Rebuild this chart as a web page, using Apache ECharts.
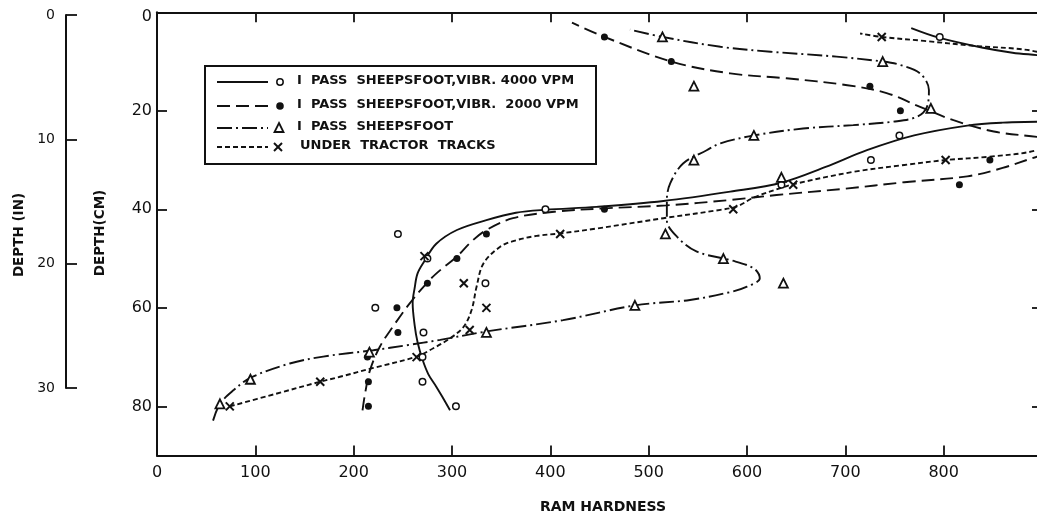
<!DOCTYPE html>
<html>
<head>
<meta charset="utf-8">
<title>Ram hardness vs depth</title>
<script src="https://cdn.jsdelivr.net/npm/echarts@6/dist/echarts.min.js"></script>
<style>
  html, body { margin: 0; padding: 0; background: #fff; }
  #chart { width: 1037px; height: 515px; }
</style>
</head>
<body>
<div id="chart"></div>
<script>
// ---- measured points: [ram hardness, depth (cm)] ----
const vibr4000Points = [
  [796, 5], [755, 25], [726, 30], [635, 35], [395, 40], [245, 45], [275, 50],
  [334, 55], [222, 60], [271, 65], [270, 70], [270, 75], [304, 80]
];
const vibr2000Points = [
  [455, 5], [523, 10], [725, 15], [756, 20], [847, 30], [816, 35], [455, 40],
  [335, 45], [305, 50], [275, 55], [244, 60], [245, 65], [214, 70], [215, 75], [215, 80]
];
const sheepsfootPoints = [
  [514, 5], [738, 10], [546, 15], [787, 19.5], [607, 25], [546, 30], [635, 33.5],
  [517, 45], [576, 50], [637, 55], [486, 59.5], [335, 65], [216, 69], [95, 74.5], [64, 79.5]
];
const tractorPoints = [
  [737, 5], [802, 30], [647, 35], [586, 40], [410, 45], [272, 49.5], [312, 55],
  [335, 60], [318, 64.5], [264, 70], [166, 75], [74, 80]
];

// ---- hand-fitted curves: [ram hardness, depth (cm)], traced from the bottom up ----
const vibr4000Curve = [
  [298, 80.8], [290, 78], [284, 76], [276, 73.5], [270, 70.5], [265, 67], [262, 63.5],
  [260, 59], [262, 56], [265, 53], [272, 50.5], [284, 47], [305, 44.2], [335, 42.2],
  [365, 40.7], [395, 40.1], [447, 39.5], [515, 38.3], [583, 36.4], [635, 34.6],
  [680, 31.4], [722, 28], [770, 25], [824, 23], [860, 22.4], [900, 22.2], [940, 21.8],
  [962, 18], [955, 12.5], [928, 9.6], [900, 8.8], [870, 8.2], [840, 7.2], [796, 5.2], [767, 3.2]
];
const vibr2000Curve = [
  [209, 80.8], [211.6, 77.4], [216.7, 72.6], [226.6, 67.9], [240, 63.8], [257, 59.1],
  [277, 54.4], [290, 52], [305, 49.6], [320, 46.5], [335, 44.2], [362, 41.8], [404, 40.5],
  [455, 39.8], [518, 39.2], [583, 38.1], [630, 37.1], [700, 35.8], [760, 34.5], [824, 33.3],
  [860, 31.6], [895, 29.3], [925, 27.6], [928, 26.2], [895, 25.3], [851, 24.2], [810, 21.9],
  [776, 19.2], [742, 16.4], [702, 14.8], [640, 13.4], [583, 12.4], [523, 10], [455, 5], [422, 2.1]
];
const sheepsfootCurve = [
  [57, 82.9], [64, 79.5], [78, 76.7], [95, 74.2], [135, 71.3], [169, 69.9], [220, 68.6],
  [254, 67.6], [288, 66.5], [335, 64.8], [413, 62.5], [486, 59.5], [542, 58.4], [583, 56.8],
  [600, 55.7], [613, 54], [607, 52], [583, 50.3], [549, 48.6], [529, 45.6], [518.5, 42.2],
  [518.5, 38.1], [522, 34.7], [535, 30.7], [559, 28], [573, 26.6], [607, 25], [657, 23.6],
  [708, 22.9], [749, 22.2], [773, 21.2], [783, 19.2], [785, 15.8], [776, 12.4], [756, 10.7],
  [738, 10], [691, 9], [624, 8], [573, 7], [514, 5], [481, 3.5]
];
const tractorCurve = [
  [74, 80], [120, 77.5], [166, 75], [186, 74], [220, 72.2], [264, 69.9], [281, 68.2],
  [298, 66.2], [312, 63.8], [320, 60.4], [325, 55.7], [332, 51], [349, 47.6], [365, 46.3],
  [386, 45.4], [410, 44.9], [447, 43.9], [515, 41.8], [573, 40.1], [590, 39.4], [607, 37.6],
  [634, 35.7], [647, 34.9], [708, 32.4], [760, 31], [802, 30], [847, 29.3], [895, 28],
  [930, 25], [945, 18], [930, 11], [895, 8], [830, 6.8], [780, 5.8], [737, 5], [715, 4.3]
];

// ---- axis ticks ----
const hardnessTicks = [0, 100, 200, 300, 400, 500, 600, 700, 800];
const depthCmTicks = [0, 20, 40, 60, 80];
const depthInTicks = [0, 10, 20, 30];

const legendLabels = [
  'I  PASS  SHEEPSFOOT,VIBR. 4000 VPM',
  'I  PASS  SHEEPSFOOT,VIBR.  2000 VPM',
  'I  PASS  SHEEPSFOOT',
  'UNDER  TRACTOR  TRACKS'
];

const INK = '#111';
const FONT = '"DejaVu Sans", sans-serif';

const dashVibr2000 = [13, 6];
const dashSheepsfoot = [15, 4, 2, 4];
const dashTractor = [5, 3];

const xMark = 'path://M0,0L10,10M10,0L0,10';

function curveSeries(data, type) {
  return {
    type: 'line', data: data, xAxisIndex: 0, yAxisIndex: 0,
    showSymbol: false, smooth: 0.35, clip: true, silent: true,
    lineStyle: { color: INK, width: 1.9, type: type },
    z: 2
  };
}
function pointSeries(data, symbol, size, fill, border) {
  return {
    type: 'scatter', data: data, xAxisIndex: 0, yAxisIndex: 0,
    symbol: symbol, symbolSize: size, silent: true,
    itemStyle: { color: fill, borderColor: INK, borderWidth: border, opacity: 1 },
    z: 3
  };
}

// legend drawn as a boxed key: line sample, marker, label
const legendRows = [82, 106, 128, 147];
const legendGraphics = [
  { type: 'rect', shape: { x: 205, y: 66, width: 391, height: 98 },
    style: { fill: '#fff', stroke: INK, lineWidth: 2 }, z: 10 }
];
const legendDashes = [null, dashVibr2000, dashSheepsfoot, dashTractor];
legendRows.forEach(function (y, i) {
  legendGraphics.push({
    type: 'line', shape: { x1: 217, y1: y, x2: 268, y2: y },
    style: { stroke: INK, lineWidth: 1.9, lineDash: legendDashes[i] }, z: 11
  });
  legendGraphics.push({
    type: 'text', left: i === 3 ? 300 : 297, top: y - 8,
    style: { text: legendLabels[i], fill: INK, font: 'bold 13px ' + FONT }, z: 11
  });
});
legendGraphics.push(
  { type: 'circle', shape: { cx: 280, cy: legendRows[0], r: 3.2 },
    style: { fill: '#fff', stroke: INK, lineWidth: 1.5 }, z: 11 },
  { type: 'circle', shape: { cx: 280, cy: legendRows[1], r: 3.8 },
    style: { fill: INK }, z: 11 },
  { type: 'polygon', shape: { points: [[279, legendRows[2] - 5], [283.5, legendRows[2] + 4], [274.5, legendRows[2] + 4]] },
    style: { fill: '#fff', stroke: INK, lineWidth: 1.8 }, z: 11 },
  { type: 'line', shape: { x1: 274, y1: legendRows[3] - 4, x2: 282, y2: legendRows[3] + 4 },
    style: { stroke: INK, lineWidth: 2 }, z: 11 },
  { type: 'line', shape: { x1: 282, y1: legendRows[3] - 4, x2: 274, y2: legendRows[3] + 4 },
    style: { stroke: INK, lineWidth: 2 }, z: 11 }
);

// axis titles
legendGraphics.push(
  { type: 'text', x: 19, y: 235, rotation: Math.PI / 2,
    style: { text: 'DEPTH (IN)', fill: INK, font: 'bold 13.5px ' + FONT, align: 'center', verticalAlign: 'middle' } },
  { type: 'text', x: 100, y: 233, rotation: Math.PI / 2,
    style: { text: 'DEPTH(CM)', fill: INK, font: 'bold 13.5px ' + FONT, align: 'center', verticalAlign: 'middle' } },
  { type: 'text', x: 603, y: 507,
    style: { text: 'RAM HARDNESS', fill: INK, font: 'bold 14px ' + FONT, align: 'center', verticalAlign: 'middle' } }
);

const frameLine = { show: true, onZero: false, lineStyle: { color: INK, width: 2 } };
const innerTick = { show: true, inside: true, length: 10, lineStyle: { color: INK, width: 1.8 } };

const option = {
  backgroundColor: '#fff',
  animation: false,
  grid: [
    { left: 157, top: 12.3, width: 885, height: 443.3, containLabel: false, outerBoundsMode: 'none' },
    { left: 66, top: 15, width: 1, height: 373, containLabel: false, outerBoundsMode: 'none' }
  ],
  xAxis: [
    {
      type: 'value', gridIndex: 0, position: 'bottom', min: 0, max: 900, interval: 100,
      axisLine: frameLine, axisTick: innerTick, splitLine: { show: false },
      axisLabel: {
        color: INK, fontFamily: FONT, fontSize: 16, margin: 9,
        formatter: function (v) { return hardnessTicks.indexOf(v) >= 0 ? String(v) : ''; }
      }
    },
    {
      type: 'value', gridIndex: 0, position: 'top', min: 0, max: 900, interval: 100,
      axisLine: frameLine, axisTick: innerTick, splitLine: { show: false },
      axisLabel: { show: false }
    },
    { type: 'value', gridIndex: 1, min: 0, max: 1, show: false }
  ],
  yAxis: [
    {
      type: 'value', gridIndex: 0, position: 'left', inverse: true, min: 0, max: 90, interval: 20,
      axisLine: frameLine, axisTick: innerTick, splitLine: { show: false },
      axisLabel: {
        color: INK, fontFamily: FONT, fontSize: 16, margin: 5,
        formatter: function (v) {
          if (depthCmTicks.indexOf(v) < 0) return '';
          return v === 0 ? '{top|0}' : String(v);
        },
        rich: { top: { fontFamily: FONT, fontSize: 16, color: INK, padding: [10, 0, 0, 0] } }
      }
    },
    {
      type: 'value', gridIndex: 0, position: 'right', inverse: true, min: 0, max: 90, interval: 20,
      axisLine: frameLine, axisTick: innerTick, splitLine: { show: false },
      axisLabel: { show: false }
    },
    {
      type: 'value', gridIndex: 1, position: 'left', inverse: true, min: 0, max: 30, interval: 10,
      axisLine: frameLine,
      axisTick: { show: true, inside: true, length: 11, lineStyle: { color: INK, width: 1.8 } },
      splitLine: { show: false },
      axisLabel: {
        color: INK, fontFamily: FONT, fontSize: 14, margin: 11,
        formatter: function (v) { return depthInTicks.indexOf(v) >= 0 ? String(v) : ''; }
      }
    }
  ],
  series: [
    curveSeries(vibr4000Curve, 'solid'),
    curveSeries(vibr2000Curve, dashVibr2000),
    curveSeries(sheepsfootCurve, dashSheepsfoot),
    curveSeries(tractorCurve, dashTractor),
    pointSeries(vibr4000Points, 'circle', 6.5, '#fff', 1.5),
    pointSeries(vibr2000Points, 'circle', 7, INK, 0),
    pointSeries(sheepsfootPoints, 'triangle', [9, 9], '#fff', 1.8),
    pointSeries(tractorPoints, xMark, 8, 'none', 2)
  ],
  graphic: legendGraphics
};

const chart = echarts.init(document.getElementById('chart'), null, { renderer: 'canvas' });
chart.setOption(option);
</script>
</body>
</html>
